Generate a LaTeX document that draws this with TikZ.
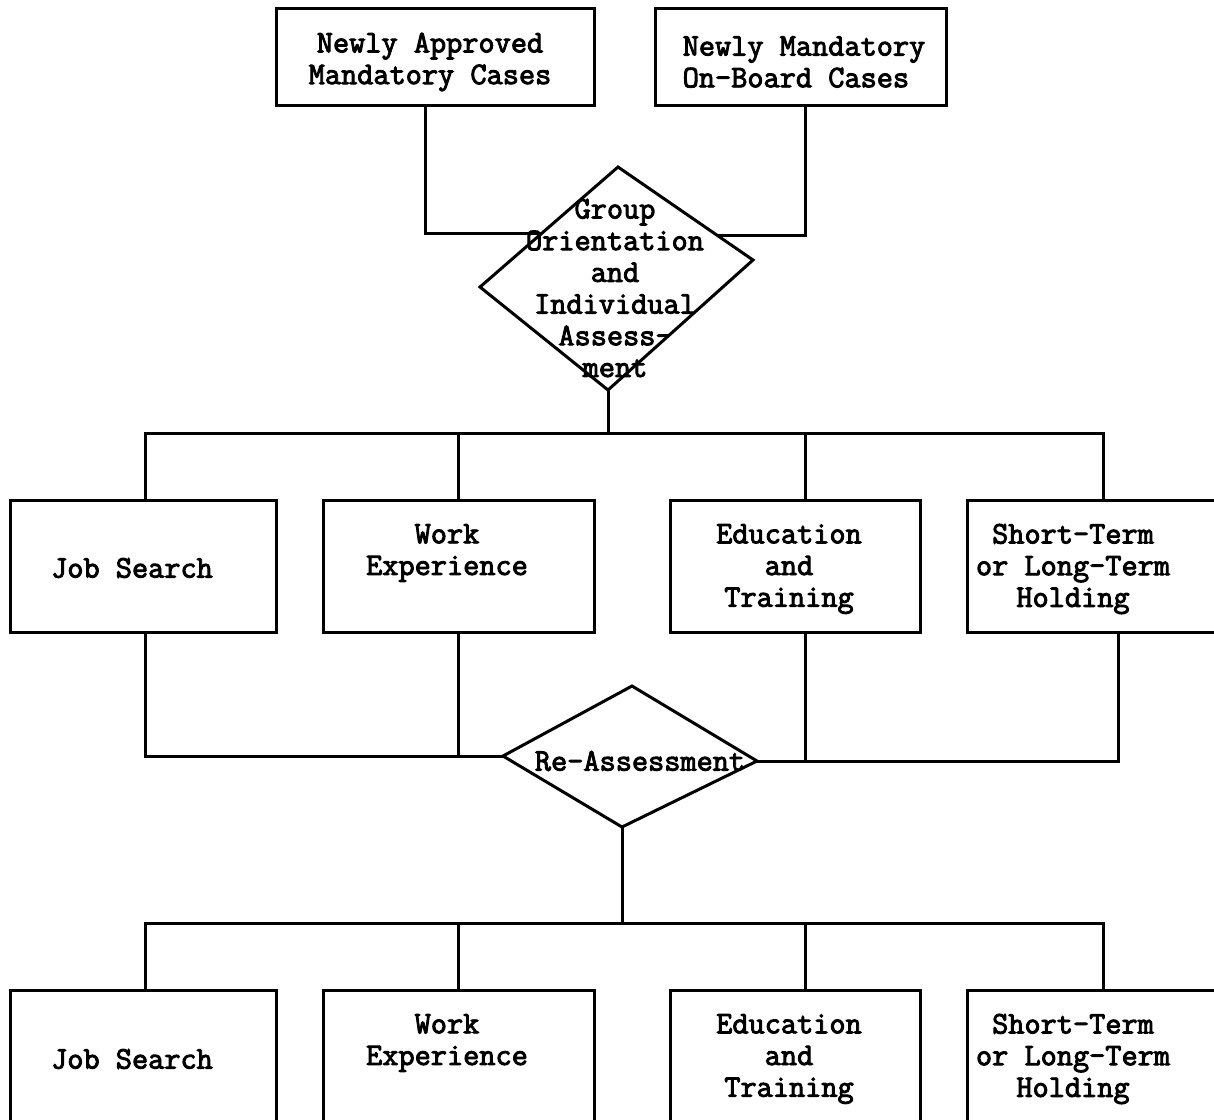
\documentclass[tikz,border=0pt]{standalone}
\usepackage{fontspec}
\newfontfamily\tyfam{Latin Modern Mono}[FakeBold=3]
\begin{document}
\begin{tikzpicture}[x=1pt,y=-1pt,
  box/.style={draw, line width=3pt, rectangle, inner sep=0pt},
  lbl/.style={font=\tyfam\fontsize{31.4pt}{31.7pt}\selectfont, align=center, inner sep=0pt},
  conn/.style={line width=3pt}]
\useasboundingbox (0,0) rectangle (1214,1119);
\fill[white] (0,0) rectangle (1214,1119);

% top boxes
\node[box, minimum width=318pt, minimum height=97pt] (nam) at (435,56.5) {};
\node[lbl] (namt) at (430,62) {Newly Approved\\Mandatory Cases};
\node[box, minimum width=291pt, minimum height=97pt] (nmo) at (800.5,56.5) {};
\node[lbl, align=left] (nmot) at (804,62) {Newly Mandatory\\On-Board Cases};

% diamond 1
\coordinate (d1t) at (618,167);
\coordinate (d1r) at (753,260);
\coordinate (d1b) at (608,390);
\coordinate (d1l) at (480,287);
\coordinate (d1w) at (542,233);
\coordinate (d1e) at (717,235);
\draw[conn, line join=miter] (d1t) -- (d1r) -- (d1b) -- (d1l) -- cycle;
\node[lbl] (d1txt) at (615,288) {Group\\Orientation\\and\\Individual\\Assess-\\ment};

\draw[conn] ([xshift=-10pt]nam.south) |- (d1w);
\draw[conn] ([xshift=4.5pt]nmo.south) |- (d1e);

% row A boxes
\node[box, minimum width=266pt, minimum height=132pt] (jsA) at (143,566) {};
\node[lbl] (jsAt) at (132,568) {Job Search};
\node[box, minimum width=271pt, minimum height=132pt] (weA) at (458.5,566) {};
\node[lbl] (weAt) at (447,553) {Work\\Experience};
\node[box, minimum width=250pt, minimum height=132pt] (etA) at (795,566) {};
\node[lbl] (etAt) at (789,569) {Education\\and\\Training};
\node[box, minimum width=255pt, minimum height=132pt] (stA) at (1094.5,566) {};
\node[lbl] (stAt) at (1073,569) {Short-Term\\or Long-Term\\Holding};

% bus 1
\coordinate (bus1) at (608,433);
\draw[conn] (d1b) -- (bus1);
\draw[conn] ([xshift=2pt]jsA.north) |- (bus1) -| ([xshift=8.5pt]stA.north);
\draw[conn] (weA.north) |- (bus1);
\draw[conn] ([xshift=10pt]etA.north) |- (bus1);

% diamond 2
\coordinate (d2t) at (632,686);
\coordinate (d2r) at (757,761);
\coordinate (d2b) at (622,827);
\coordinate (d2l) at (503,756);
\draw[conn, line join=miter] (d2t) -- (d2r) -- (d2b) -- (d2l) -- cycle;
\node[lbl] (d2txt) at (640,761) {Re-Assessment};

\draw[conn] ([xshift=2pt]jsA.south) |- (d2l);
\draw[conn] (weA.south) |- (d2l);
\draw[conn] ([xshift=23.5pt]stA.south) |- (d2r);
\draw[conn] ([xshift=10pt]etA.south) |- (d2r);

% row B boxes
\node[box, minimum width=266pt, minimum height=135pt] (jsB) at (143,1057.5) {};
\node[lbl] (jsBt) at (132,1059) {Job Search};
\node[box, minimum width=271pt, minimum height=135pt] (weB) at (458.5,1057.5) {};
\node[lbl] (weBt) at (447,1043) {Work\\Experience};
\node[box, minimum width=250pt, minimum height=135pt] (etB) at (795,1057.5) {};
\node[lbl] (etBt) at (789,1059) {Education\\and\\Training};
\node[box, minimum width=255pt, minimum height=135pt] (stB) at (1094.5,1057.5) {};
\node[lbl] (stBt) at (1073,1059) {Short-Term\\or Long-Term\\Holding};

% bus 2
\coordinate (bus2) at (622,923);
\draw[conn] (d2b) -- (bus2);
\draw[conn] ([xshift=2pt]jsB.north) |- (bus2) -| ([xshift=8.5pt]stB.north);
\draw[conn] (weB.north) |- (bus2);
\draw[conn] ([xshift=10pt]etB.north) |- (bus2);
\end{tikzpicture}
\end{document}
